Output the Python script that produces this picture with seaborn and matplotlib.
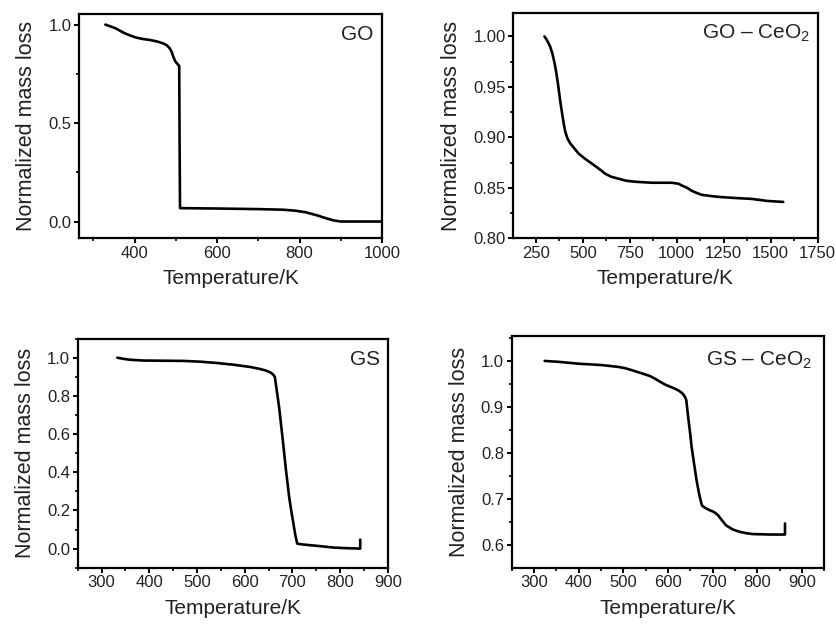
import seaborn as sns
import pandas as pd
import matplotlib
import matplotlib.pyplot as plt
from matplotlib.ticker import MultipleLocator, FormatStrFormatter

matplotlib.use('Agg')

sns.set_theme(style="ticks")
plt.rcParams['font.family'] = ['Liberation Sans', 'DejaVu Sans']
plt.rcParams['mathtext.fontset'] = 'custom'
plt.rcParams['mathtext.rm'] = 'Liberation Sans'

# GO
go_temp = [329, 340, 355, 365, 376, 390, 404, 420, 437, 455, 469, 478, 485, 490,
           494, 499, 504, 508, 509, 510, 600, 700, 760, 790, 815, 843, 865, 884,
           900, 1000]
go_mass = [1.0, 0.992, 0.98, 0.968, 0.956, 0.944, 0.934, 0.927, 0.922, 0.914,
           0.905, 0.895, 0.88, 0.86, 0.835, 0.812, 0.80, 0.79, 0.40, 0.068, 0.066,
           0.063, 0.06, 0.055, 0.047, 0.031, 0.016, 0.005, 0.0, 0.0]

# GO - CeO2
goce_temp = [296, 310, 326, 338, 349, 358, 367, 379, 392, 400, 406, 418, 433, 455,
             477, 510, 548, 585, 619, 650, 690, 730, 778, 867, 973, 1010, 1030,
             1055, 1080, 1105, 1133, 1175, 1222, 1300, 1399, 1480, 1567]
goce_mass = [1.0, 0.996, 0.99, 0.983, 0.974, 0.965, 0.954, 0.937, 0.921, 0.912,
             0.906, 0.899, 0.894, 0.889, 0.884, 0.879, 0.874, 0.869, 0.864, 0.861,
             0.859, 0.857, 0.856, 0.855, 0.855, 0.854, 0.852, 0.850, 0.847, 0.845,
             0.843, 0.842, 0.841, 0.840, 0.839, 0.837, 0.836]

# GS
gs_temp = [333, 345, 360, 388, 430, 472, 507, 542, 577, 612, 630, 645, 655, 660,
           663, 667, 672, 679, 686, 693, 698, 702, 706, 710, 720, 753, 788, 815,
           842, 842]
gs_mass = [1.0, 0.994, 0.989, 0.985, 0.984, 0.983, 0.979, 0.972, 0.963, 0.951,
           0.942, 0.932, 0.921, 0.910, 0.900, 0.83, 0.74, 0.585, 0.42, 0.271, 0.19,
           0.131, 0.07, 0.026, 0.022, 0.014, 0.005, 0.002, 0.0, 0.047]

# GS - CeO2
gsce_temp = [324, 340, 356, 400, 452, 489, 505, 519, 535, 548, 560, 570, 582, 593,
             605, 615, 625, 633, 638, 641, 645, 650, 653, 658, 664, 670, 675, 677,
             685, 693, 703, 712, 720, 730, 745, 760, 775, 790, 830, 862, 862]
gsce_mass = [1.0, 0.999, 0.998, 0.994, 0.991, 0.987, 0.984, 0.980, 0.975, 0.971,
             0.967, 0.962, 0.955, 0.949, 0.944, 0.940, 0.935, 0.929, 0.922, 0.915,
             0.88, 0.84, 0.813, 0.78, 0.741, 0.71, 0.69, 0.685, 0.68, 0.676, 0.672,
             0.665, 0.655, 0.643, 0.634, 0.629, 0.626, 0.624, 0.623, 0.623, 0.647]

panels = [
    dict(temp=go_temp, mass=go_mass, name='GO',
         pos=[0.0945, 0.620, 0.3625, 0.358], xlim=(265, 1000), ylim=(-0.085, 1.055),
         xmaj=200, xmin=100, ymaj=0.5, ymin=0.25, yfmt='%.1f',
         tx=0.97, ty=0.906),
    dict(temp=goce_temp, mass=goce_mass, name=r'GO – CeO$_\mathregular{2}$',
         pos=[0.614, 0.620, 0.364, 0.359], xlim=(130, 1750), ylim=(0.80, 1.023),
         xmaj=250, xmin=125, ymaj=0.05, ymin=0.025, yfmt='%.2f',
         tx=0.977, ty=0.912),
    dict(temp=gs_temp, mass=gs_mass, name='GS',
         pos=[0.093, 0.0946, 0.371, 0.3654], xlim=(250, 900), ylim=(-0.1, 1.1),
         xmaj=100, xmin=50, ymaj=0.2, ymin=0.1, yfmt='%.1f',
         tx=0.975, ty=0.908),
    dict(temp=gsce_temp, mass=gsce_mass, name=r'GS – CeO$_\mathregular{2}$',
         pos=[0.612, 0.0946, 0.374, 0.3694], xlim=(250, 950), ylim=(0.551, 1.054),
         xmaj=100, xmin=50, ymaj=0.1, ymin=0.05, yfmt='%.1f',
         tx=0.959, ty=0.896),
]

fig = plt.figure(figsize=(8.36, 6.27), dpi=100)

for p in panels:
    ax = fig.add_axes(p['pos'])
    df = pd.DataFrame({'Temperature': p['temp'], 'Mass': p['mass']})
    sns.lineplot(data=df, x='Temperature', y='Mass', ax=ax, sort=False,
                 estimator=None, color='black', linewidth=1.9)
    ax.set_xlim(*p['xlim'])
    ax.set_ylim(*p['ylim'])
    ax.xaxis.set_major_locator(MultipleLocator(p['xmaj']))
    ax.xaxis.set_minor_locator(MultipleLocator(p['xmin']))
    ax.yaxis.set_major_locator(MultipleLocator(p['ymaj']))
    ax.yaxis.set_minor_locator(MultipleLocator(p['ymin']))
    ax.yaxis.set_major_formatter(FormatStrFormatter(p['yfmt']))
    ax.tick_params(which='major', direction='out', length=3.5, width=1.4,
                   labelsize=12, pad=2, color='black', labelcolor='#222222')
    ax.tick_params(which='minor', direction='out', length=2, width=1.2, color='black')
    for s in ax.spines.values():
        s.set_linewidth(1.6)
        s.set_color('black')
    ax.set_xlabel('Temperature/K', fontsize=15, color='#222222', labelpad=6)
    ax.set_ylabel('Normalized mass loss', fontsize=15.5, color='#222222', labelpad=8)
    ax.text(p['tx'], p['ty'], p['name'], transform=ax.transAxes, ha='right',
            va='center', fontsize=15, color='#222222')

fig.savefig('out.png', dpi=100)
